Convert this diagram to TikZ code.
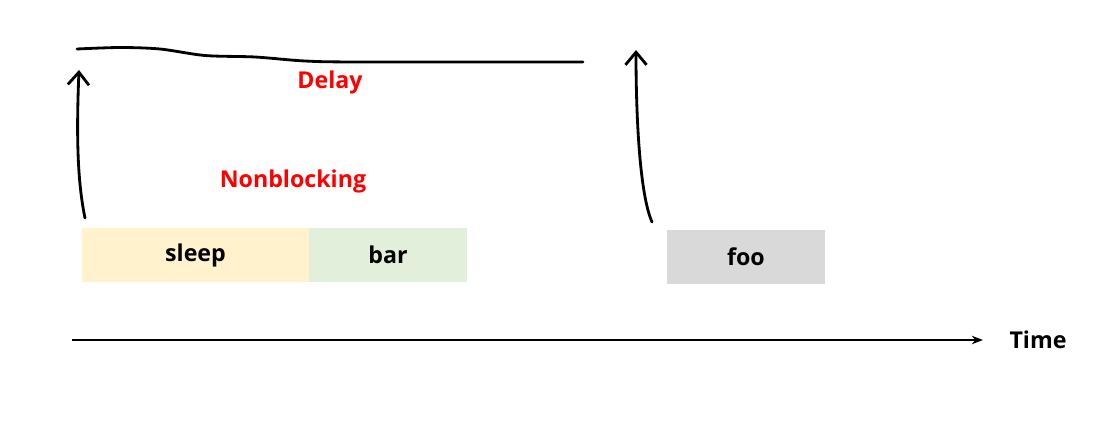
\documentclass[tikz,border=0pt]{standalone}
\usepackage{fontspec}
\setmainfont{Open Sans}
\usetikzlibrary{arrows.meta}
\definecolor{sleepfill}{RGB}{255,242,204}
\definecolor{barfill}{RGB}{226,239,218}
\definecolor{foofill}{RGB}{217,217,217}
\definecolor{labelred}{RGB}{255,0,0}

\begin{document}
\begin{tikzpicture}[
  x=0.025cm, y=-0.025cm,
  task/.style={inner sep=0pt, minimum height=54*0.025cm, font=\fontsize{16.5}{19}\selectfont\bfseries},
  note/.style={text=labelred, font=\fontsize{16.5}{19}\selectfont\bfseries},
  pen/.style={line width=2pt, line cap=round, line join=round},
  handarrow/.style={pen, -{Straight Barb[length=9pt, width=15pt, line width=2pt]}},
  axis/.style={line width=2pt, -{Stealth[length=8pt, width=6pt]}}
]
  \useasboundingbox (0,0) rectangle (1099,421);

  \node[task, fill=sleepfill, minimum width=227*0.025cm] (sleep) at (195.5,255) {sleep};
  \node[task, fill=barfill,   minimum width=158*0.025cm] (bar)   at (388,255)   {bar};
  \node[task, fill=foofill,   minimum width=158*0.025cm] (foo)   at (746,256.5) {foo};

  \node[note] (delay)   at (330,82)  {Delay};
  \node[note] (nonblk)  at (293,181) {Nonblocking};
  \node[font=\fontsize{16.5}{19}\selectfont\bfseries] (time) at (1038,340) {Time};

  \coordinate (t0) at (72,340);
  \coordinate (t1) at (983,340);
  \coordinate (callA) at (85,218);
  \coordinate (wakeA) at (79,70);
  \coordinate (callB) at (652,222);
  \coordinate (wakeB) at (636,50);

  % time axis
  \draw[axis] (t0) -- (t1);

  % hand-drawn delay span
  \draw[pen] plot[smooth, tension=0.5] coordinates {(77,49) (120,47.5) (160,49) (205,55.5) (255,57) (305,61) (360,62) (583,62)};

  % hand-drawn arrows
  \draw[handarrow] (callA) .. controls (76,175) and (77,120) .. (wakeA);
  \draw[handarrow] (callB) .. controls (640,195) and (636,120) .. (wakeB);
\end{tikzpicture}
\end{document}
